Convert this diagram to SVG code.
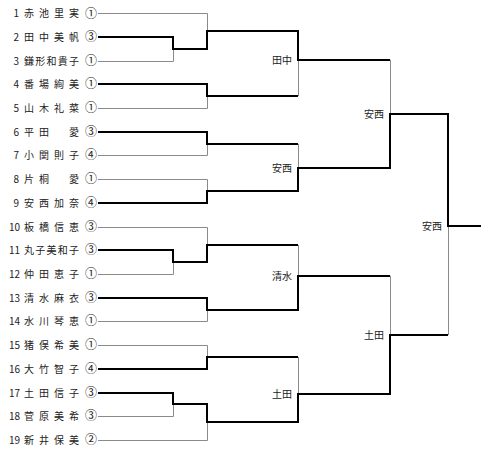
<svg xmlns="http://www.w3.org/2000/svg" width="490" height="453" viewBox="0 0 490 453">
<style>
text{font-family:"Noto Sans CJK JP","Liberation Sans",sans-serif;font-size:10px;fill:#222}
.num{text-anchor:end}
.nm{text-anchor:middle}
.c{text-anchor:middle;font-size:12px}
.lbl{text-anchor:end}
.t{stroke:#8a8a8a;stroke-width:1;fill:none}
.b{stroke:#000;stroke-width:2;fill:none}
</style>
<rect width="490" height="453" fill="#fff"/>
<g id="connectors">
<path class="t" d="M98 13.5H207.5V31 M98 61.5H173.5V49 M98 108.5H207.5V96 M207.5 144V155.5H98 M98 179.5H207.5V191 M298.5 60V96 M298.5 144V168 M390.5 60V114 M98 227.5H207.5V245 M98 274.5H173.5V262 M98 321.5H207.5V310 M298.5 245V276 M98 345.5H207.5V357 M98 416.5H173.5V404 M98 440.5H207.5V422 M298.5 357V394 M390.5 276V335 M448.5 226V335"/>
<path class="b" d="M98 37H173V49H207V31H298V60H390 M98 84H207V96H298 M98 132H207V144H298 M98 203H207V191H298V168H390V114H448V226H481 M98 250H173V262H207V245H298 M98 298H207V310H298V276H390 M98 369H207V357H298 M98 393H173V404H207V422H298V394H390V335H448"/>
</g>
<g id="p1"><text class="num" x="19" y="17">1</text><text class="nm" x="29 44 59 74" y="17">赤池里実</text><text class="c" x="91" y="17.5">①</text></g>
<g id="p2"><text class="num" x="19" y="40.5">2</text><text class="nm" x="29 44 59 74" y="40.5">田中美帆</text><text class="c" x="91" y="41">③</text></g>
<g id="p3"><text class="num" x="19" y="64.5">3</text><text class="nm" x="29 40.25 51.5 62.75 74" y="64.5">鎌形和貴子</text><text class="c" x="91" y="65">①</text></g>
<g id="p4"><text class="num" x="19" y="87.5">4</text><text class="nm" x="29 44 59 74" y="87.5">番場絢美</text><text class="c" x="91" y="88">①</text></g>
<g id="p5"><text class="num" x="19" y="111.5">5</text><text class="nm" x="29 44 59 74" y="111.5">山木礼菜</text><text class="c" x="91" y="112">①</text></g>
<g id="p6"><text class="num" x="19" y="135.5">6</text><text class="nm" x="29 44 74" y="135.5">平田愛</text><text class="c" x="91" y="136">③</text></g>
<g id="p7"><text class="num" x="19" y="158.5">7</text><text class="nm" x="29 44 59 74" y="158.5">小関則子</text><text class="c" x="91" y="159">④</text></g>
<g id="p8"><text class="num" x="19" y="182.5">8</text><text class="nm" x="29 44 74" y="182.5">片桐愛</text><text class="c" x="91" y="183">①</text></g>
<g id="p9"><text class="num" x="19" y="206.5">9</text><text class="nm" x="29 44 59 74" y="206.5">安西加奈</text><text class="c" x="91" y="207">④</text></g>
<g id="p10"><text class="num" x="20" y="230.5">10</text><text class="nm" x="29 44 59 74" y="230.5">板橋信恵</text><text class="c" x="91" y="231">③</text></g>
<g id="p11"><text class="num" x="20" y="253.5">11</text><text class="nm" x="29 40.25 51.5 62.75 74" y="253.5">丸子美和子</text><text class="c" x="91" y="254">③</text></g>
<g id="p12"><text class="num" x="20" y="277.5">12</text><text class="nm" x="29 44 59 74" y="277.5">仲田恵子</text><text class="c" x="91" y="278">①</text></g>
<g id="p13"><text class="num" x="20" y="301.5">13</text><text class="nm" x="29 44 59 74" y="301.5">清水麻衣</text><text class="c" x="91" y="302">③</text></g>
<g id="p14"><text class="num" x="20" y="324.5">14</text><text class="nm" x="29 44 59 74" y="324.5">水川琴恵</text><text class="c" x="91" y="325">①</text></g>
<g id="p15"><text class="num" x="20" y="348.5">15</text><text class="nm" x="29 44 59 74" y="348.5">猪俣希美</text><text class="c" x="91" y="349">①</text></g>
<g id="p16"><text class="num" x="20" y="372.5">16</text><text class="nm" x="29 44 59 74" y="372.5">大竹智子</text><text class="c" x="91" y="373">④</text></g>
<g id="p17"><text class="num" x="20" y="396.5">17</text><text class="nm" x="29 44 59 74" y="396.5">土田信子</text><text class="c" x="91" y="397">③</text></g>
<g id="p18"><text class="num" x="20" y="419.5">18</text><text class="nm" x="29 44 59 74" y="419.5">菅原美希</text><text class="c" x="91" y="420">③</text></g>
<g id="p19"><text class="num" x="20" y="443.5">19</text><text class="nm" x="29 44 59 74" y="443.5">新井保美</text><text class="c" x="91" y="444">②</text></g>
<g id="w-tanaka"><text class="lbl" x="292" y="63.5">田中</text></g>
<g id="w-anzai1"><text class="lbl" x="292" y="171.5">安西</text></g>
<g id="w-shimizu"><text class="lbl" x="292" y="279.5">清水</text></g>
<g id="w-tsuchida1"><text class="lbl" x="292" y="397.5">土田</text></g>
<g id="w-anzai2"><text class="lbl" x="384" y="117.5">安西</text></g>
<g id="w-tsuchida2"><text class="lbl" x="384" y="338.5">土田</text></g>
<g id="w-anzai3"><text class="lbl" x="442" y="229.5">安西</text></g>
</svg>
